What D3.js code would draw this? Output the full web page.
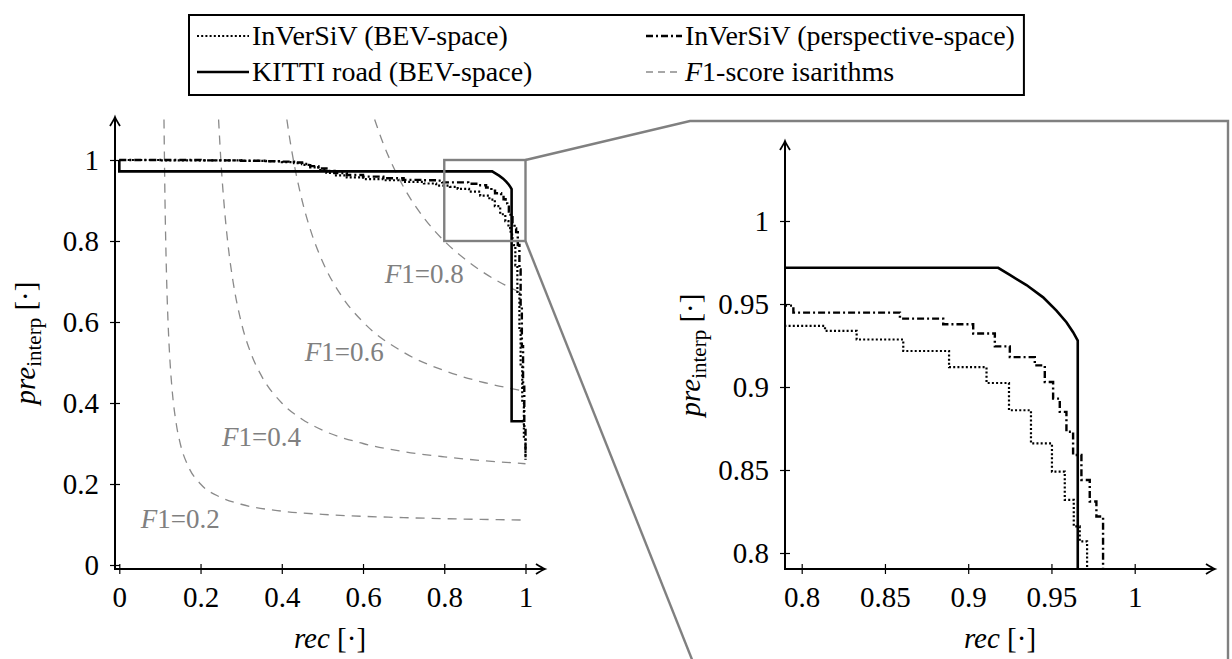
<!DOCTYPE html>
<html>
<head>
<meta charset="utf-8">
<script src="https://cdn.jsdelivr.net/npm/d3@7"></script>
<style>
body { margin: 0; background: #fff; }
svg, svg text { font-family: "Liberation Serif", "DejaVu Serif", serif; }
text { fill: #000; }
</style>
</head>
<body>
<div id="chart"></div>
<script>
// InVerSiV (BEV-space), dotted
var recBEV = [0, 0.10, 0.20, 0.30, 0.36, 0.40, 0.43, 0.45, 0.47, 0.49, 0.51, 0.53, 0.56, 0.60, 0.65, 0.70, 0.75, 0.78, 0.814, 0.833, 0.861, 0.8885, 0.911, 0.9245, 0.9377, 0.9503, 0.958, 0.9634, 0.967, 0.9714, 0.975, 0.98, 0.985, 0.988, 0.992, 0.996, 1.0];
var preBEV = [1.0, 0.999, 0.999, 0.998, 0.997, 0.995, 0.992, 0.988, 0.982, 0.975, 0.968, 0.962, 0.957, 0.953, 0.950, 0.946, 0.942, 0.9368, 0.9338, 0.9286, 0.9217, 0.912, 0.9024, 0.886, 0.866, 0.849, 0.832, 0.816, 0.807, 0.79, 0.74, 0.67, 0.58, 0.49, 0.40, 0.31, 0.265];
// InVerSiV (perspective-space), dash-dotted
var recPersp = [0, 0.10, 0.20, 0.30, 0.36, 0.40, 0.43, 0.45, 0.47, 0.49, 0.51, 0.53, 0.56, 0.60, 0.65, 0.70, 0.75, 0.78, 0.795, 0.859, 0.885, 0.903, 0.916, 0.925, 0.94, 0.946, 0.951, 0.955, 0.959, 0.963, 0.968, 0.973, 0.977, 0.981, 0.985, 0.988, 0.991, 0.994, 0.997, 1.0];
var prePersp = [1.0, 1.0, 0.999, 0.998, 0.997, 0.996, 0.994, 0.990, 0.985, 0.979, 0.973, 0.968, 0.963, 0.959, 0.955, 0.951, 0.950, 0.949, 0.9448, 0.9412, 0.9378, 0.9322, 0.9245, 0.918, 0.913, 0.903, 0.893, 0.885, 0.873, 0.859, 0.844, 0.831, 0.822, 0.79, 0.73, 0.64, 0.54, 0.44, 0.34, 0.26];
// KITTI road (BEV-space), solid
var recKITTI = [0, 0, 0.918, 0.925, 0.935, 0.945, 0.953, 0.959, 0.963, 0.9658, 0.9658, 0.995];
var preKITTI = [1.0, 0.9718, 0.9718, 0.9675, 0.9614, 0.954, 0.946, 0.939, 0.933, 0.928, 0.355, 0.355];

// F1-score isarithms
var isoLevels = ["0.2", "0.4", "0.6", "0.8"];
var isoRec = [
  [0.11, 0.1125, 0.115, 0.1175, 0.12, 0.125, 0.13, 0.14, 0.15, 0.17, 0.2, 0.25, 0.3, 0.4, 0.5, 0.7, 1.0],
  [0.2444, 0.25, 0.26, 0.27, 0.28, 0.3, 0.325, 0.35, 0.4, 0.45, 0.5, 0.6, 0.7, 0.8, 1.0],
  [0.4125, 0.42, 0.435, 0.45, 0.475, 0.5, 0.55, 0.6, 0.7, 0.8, 0.9, 1.0],
  [0.6286, 0.65, 0.675, 0.7, 0.75, 0.8, 0.85, 0.9, 0.95, 1.0]
];
var isoPre = [
  [1.1, 0.9, 0.767, 0.671, 0.6, 0.5, 0.433, 0.35, 0.3, 0.243, 0.2, 0.167, 0.15, 0.133, 0.125, 0.117, 0.111],
  [1.1, 1.0, 0.867, 0.771, 0.7, 0.6, 0.52, 0.467, 0.4, 0.36, 0.333, 0.3, 0.28, 0.267, 0.25],
  [1.1, 1.05, 0.967, 0.9, 0.814, 0.75, 0.66, 0.6, 0.525, 0.48, 0.45, 0.429],
  [1.1, 1.04, 0.982, 0.933, 0.857, 0.8, 0.756, 0.72, 0.691, 0.667]
];
var isoLabelRec = [0.15, 0.35, 0.554, 0.751];
var isoLabelPre = [0.114, 0.316, 0.526, 0.72];

var leftTicks = [0, 0.2, 0.4, 0.6, 0.8, 1];
var rightTicks = [0.8, 0.85, 0.9, 0.95, 1];

var grey = "#808080";
var svg = d3.select("#chart").append("svg")
    .attr("width", 1232)
    .attr("height", 659)
    .attr("font-family", "Liberation Serif");

var xL = d3.scaleLinear().domain([0, 1]).range([119.3, 525.5]);
var yL = d3.scaleLinear().domain([0, 1]).range([565, 160]);
var xR = d3.scaleLinear().domain([0.8, 1]).range([801.7, 1134.7]);
var yR = d3.scaleLinear().domain([0.8, 1]).range([553, 221]);

var zip = (a, b) => a.map((v, i) => [v, b[i]]);
var series = [
  {rec: recBEV, pre: preBEV, dash: "2,2.2", width: 2.2, curve: d3.curveStepAfter},
  {rec: recPersp, pre: prePersp, dash: "7,3,2,3", width: 2.4, curve: d3.curveStepAfter},
  {rec: recKITTI, pre: preKITTI, dash: null, width: 2.6, curve: d3.curveLinear}
];

// pfeilspitze
function arrow(g, x, y, angle) {
  g.append("path")
    .attr("d", "M-9,-5 Q-3,-1.2 0,0 Q-3,1.2 -9,5")
    .attr("transform", "translate(" + x + "," + y + ") rotate(" + angle + ")")
    .attr("fill", "none").attr("stroke", "#000").attr("stroke-width", 1.8);
}

function drawAxes(xs, ys, xt, yt, x0, y0, xEnd, yEnd, labX, labY) {
  var g = svg.append("g");
  var xa = g.append("g").attr("transform", "translate(0," + y0 + ")")
    .call(d3.axisBottom(xs).tickValues(xt).tickFormat(d3.format("~g")).tickSizeOuter(0))
    .attr("font-family", null).attr("font-size", null);
  xa.select(".domain").remove();
  xa.selectAll(".tick line").attr("y1", -5).attr("y2", 5).attr("stroke-width", 1.2);
  xa.selectAll(".tick text").attr("y", 17).attr("dy", "0.71em")
    .style("font-size", "29px").style("font-family", "Liberation Serif");
  var ya = g.append("g").attr("transform", "translate(" + x0 + ",0)")
    .call(d3.axisLeft(ys).tickValues(yt).tickFormat(d3.format("~g")).tickSizeOuter(0))
    .attr("font-family", null).attr("font-size", null);
  ya.select(".domain").remove();
  ya.selectAll(".tick line").attr("x1", -5).attr("x2", 5).attr("stroke-width", 1.2);
  ya.selectAll(".tick text").attr("x", -16)
    .style("font-size", "29px").style("font-family", "Liberation Serif");
  g.append("line").attr("x1", x0).attr("x2", xEnd).attr("y1", y0).attr("y2", y0)
    .attr("stroke", "#000").attr("stroke-width", 2);
  g.append("line").attr("x1", x0).attr("x2", x0).attr("y1", y0 + 1).attr("y2", yEnd)
    .attr("stroke", "#000").attr("stroke-width", 2);
  arrow(g, xEnd, y0, 0);
  arrow(g, x0, yEnd, -90);

  var xl = g.append("text").attr("x", (x0 + xEnd) / 2).attr("y", 648)
    .attr("text-anchor", "middle").style("font-size", "29px");
  xl.append("tspan").style("font-style", "italic").text("rec");
  xl.append("tspan").text(" [·]");
  var yl = g.append("text")
    .attr("transform", "translate(" + labX + "," + labY + ") rotate(-90)")
    .attr("text-anchor", "middle").style("font-size", "29px");
  yl.append("tspan").style("font-style", "italic").text("pre");
  yl.append("tspan").attr("dy", 6).style("font-size", "21px").text("interp");
  yl.append("tspan").attr("dy", -6).text(" [·]");
}

// linkes Diagramm: Isolinien
var lineL = d3.line().x(d => xL(d[0])).y(d => yL(d[1])).curve(d3.curveMonotoneX);
isoLevels.forEach(function (lv, i) {
  svg.append("path")
    .attr("d", lineL(zip(isoRec[i], isoPre[i])))
    .attr("fill", "none").attr("stroke", "#8a8a8a")
    .attr("stroke-width", 1.3).attr("stroke-dasharray", "9,7");
  var t = svg.append("text")
    .attr("x", xL(isoLabelRec[i])).attr("y", yL(isoLabelPre[i]))
    .attr("dy", "0.35em").attr("text-anchor", "middle")
    .style("font-size", "27px");
  t.append("tspan").style("font-style", "italic").style("fill", grey).text("F");
  t.append("tspan").style("fill", grey).text("1=" + lv);
});

// Kurven in beiden Diagrammen
svg.append("clipPath").attr("id", "clipR").append("rect")
  .attr("x", 786).attr("y", 141).attr("width", 430).attr("height", 427);

series.forEach(function (s) {
  var pts = zip(s.rec, s.pre);
  var l1 = d3.line().x(d => xL(d[0])).y(d => yL(d[1])).curve(s.curve);
  var l2 = d3.line().x(d => xR(d[0])).y(d => yR(d[1])).curve(s.curve);
  svg.append("path").attr("d", l1(pts))
    .attr("fill", "none").attr("stroke", "#000").attr("stroke-width", s.width)
    .attr("stroke-dasharray", s.dash);
  svg.append("path").attr("d", l2(pts)).attr("clip-path", "url(#clipR)")
    .attr("fill", "none").attr("stroke", "#000").attr("stroke-width", s.width)
    .attr("stroke-dasharray", s.dash);
});

// Lupe
svg.append("rect")
  .attr("x", xL(0.8)).attr("y", yL(1))
  .attr("width", xL(1) - xL(0.8)).attr("height", yL(0.8) - yL(1))
  .attr("fill", "none").attr("stroke", grey).attr("stroke-width", 2.4);
svg.append("path")
  .attr("d", "M" + xL(1) + "," + yL(1) + " L690,121 L1228,121 L1228,662")
  .attr("fill", "none").attr("stroke", grey).attr("stroke-width", 2.4);
svg.append("path")
  .attr("d", "M" + xL(1) + "," + yL(0.8) + " L693,662")
  .attr("fill", "none").attr("stroke", grey).attr("stroke-width", 2.4);

drawAxes(xL, yL, leftTicks, leftTicks, 115, 569, 545, 117, 35, 343);
drawAxes(xR, yR, rightTicks, rightTicks, 785, 569, 1215, 141, 700, 355);

// Legende
var leg = svg.append("g");
var box = leg.append("rect").attr("x", 189).attr("y", 15).attr("height", 80)
  .attr("fill", "#fff").attr("stroke", "#000").attr("stroke-width", 2);
var legItems = [
  {label: "InVerSiV (BEV-space)", x: 197, y: 36, len: 52, s: series[0], col: "#000"},
  {label: "InVerSiV (perspective-space)", x: 646, y: 36, len: 36, s: series[1], col: "#000"},
  {label: "KITTI road (BEV-space)", x: 197, y: 72, len: 52, s: series[2], col: "#000"},
  {label: "-score isarithms", x: 646, y: 72, len: 36, s: {dash: "7,5", width: 1.3}, col: "#8a8a8a"}
];
var rightEdge = 0;
legItems.forEach(function (it, i) {
  leg.append("line").attr("x1", it.x).attr("x2", it.x + it.len).attr("y1", it.y).attr("y2", it.y)
    .attr("stroke", it.col).attr("stroke-width", it.s.width).attr("stroke-dasharray", it.s.dash);
  var t = leg.append("text").attr("x", it.x + it.len + 3).attr("y", it.y).attr("dy", "0.33em")
    .style("font-size", "28px");
  if (i === 3) {
    t.append("tspan").style("font-style", "italic").text("F");
    t.append("tspan").text("1" + it.label);
  } else {
    t.text(it.label);
  }
  var bb = t.node().getBBox();
  rightEdge = Math.max(rightEdge, bb.x + bb.width);
});
box.attr("width", rightEdge + 9 - 189);
</script>
</body>
</html>
